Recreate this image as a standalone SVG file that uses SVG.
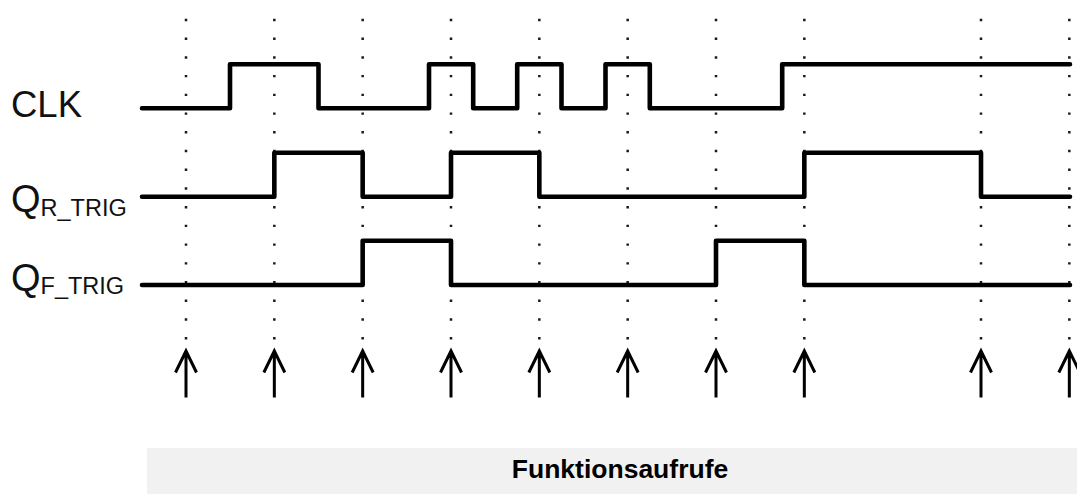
<svg xmlns="http://www.w3.org/2000/svg" width="1077" height="494" viewBox="0 0 1077 494">
  <style>
    .grid { stroke: #1a1a1a; stroke-width: 2.5; stroke-dasharray: 2.4 16.32; fill: none; }
    .sig { stroke: #000; stroke-width: 4.6; fill: none; stroke-linejoin: round; stroke-linecap: round; }
    .arr { stroke: #000; stroke-width: 3; fill: none; stroke-linejoin: miter; stroke-linecap: butt; }
    .lbl { font-family: "Liberation Sans", Arial, sans-serif; fill: #111; }
    .title { font-family: "Liberation Sans", Arial, sans-serif; font-weight: bold; font-size: 26.5px; fill: #000; }
  </style>
  <defs>
    <path id="uparrow" d="M0,397.5 V352 M-10.5,372.5 L0,351 L10.5,372.5" />
  </defs>
  <rect width="1077" height="494" fill="#fff"/>

  <g id="grid">
    <line class="grid" x1="186" y1="18.8" x2="186" y2="340"/>
    <line class="grid" x1="274.33" y1="18.8" x2="274.33" y2="340"/>
    <line class="grid" x1="362.67" y1="18.8" x2="362.67" y2="340"/>
    <line class="grid" x1="451" y1="18.8" x2="451" y2="340"/>
    <line class="grid" x1="539.33" y1="18.8" x2="539.33" y2="340"/>
    <line class="grid" x1="627.67" y1="18.8" x2="627.67" y2="340"/>
    <line class="grid" x1="716" y1="18.8" x2="716" y2="340"/>
    <line class="grid" x1="804.33" y1="18.8" x2="804.33" y2="340"/>
    <line class="grid" x1="981" y1="18.8" x2="981" y2="340"/>
    <line class="grid" x1="1069.33" y1="18.8" x2="1069.33" y2="340"/>
  </g>

  <g id="clk">
    <text class="lbl" x="11" y="117.3" font-size="37.5" textLength="71" lengthAdjust="spacingAndGlyphs">CLK</text>
    <path class="sig" d="M142,108.3 H230 V64.3 H318.5 V108.3 H429 V64.3 H473.2 V108.3 H517.2 V64.3 H561.5 V108.3 H605.5 V64.3 H649.8 V108.3 H782.2 V64.3 H1070"/>
  </g>

  <g id="q_r_trig">
    <text class="lbl" x="11" y="212" font-size="38">Q<tspan font-size="23.5" y="216">R_TRIG</tspan></text>
    <path class="sig" d="M142,196.7 H274.33 V152.7 H362.67 V196.7 H451 V152.7 H539.33 V196.7 H804.33 V152.7 H981 V196.7 H1070"/>
  </g>

  <g id="q_f_trig">
    <text class="lbl" x="11" y="290.5" font-size="38">Q<tspan font-size="23.5" y="294">F_TRIG</tspan></text>
    <path class="sig" d="M142,285 H362.67 V240.7 H451 V285 H716 V240.7 H804.33 V285 H1070"/>
  </g>

  <g id="calls">
    <use href="#uparrow" class="arr" x="186"/>
    <use href="#uparrow" class="arr" x="274.33"/>
    <use href="#uparrow" class="arr" x="362.67"/>
    <use href="#uparrow" class="arr" x="451"/>
    <use href="#uparrow" class="arr" x="539.33"/>
    <use href="#uparrow" class="arr" x="627.67"/>
    <use href="#uparrow" class="arr" x="716"/>
    <use href="#uparrow" class="arr" x="804.33"/>
    <use href="#uparrow" class="arr" x="981"/>
    <use href="#uparrow" class="arr" x="1069.33"/>
  </g>

  <g id="caption">
    <rect x="147" y="448" width="946" height="46" fill="#f1f1f1"/>
    <text class="title" x="620" y="477.5" text-anchor="middle">Funktionsaufrufe</text>
  </g>
</svg>
